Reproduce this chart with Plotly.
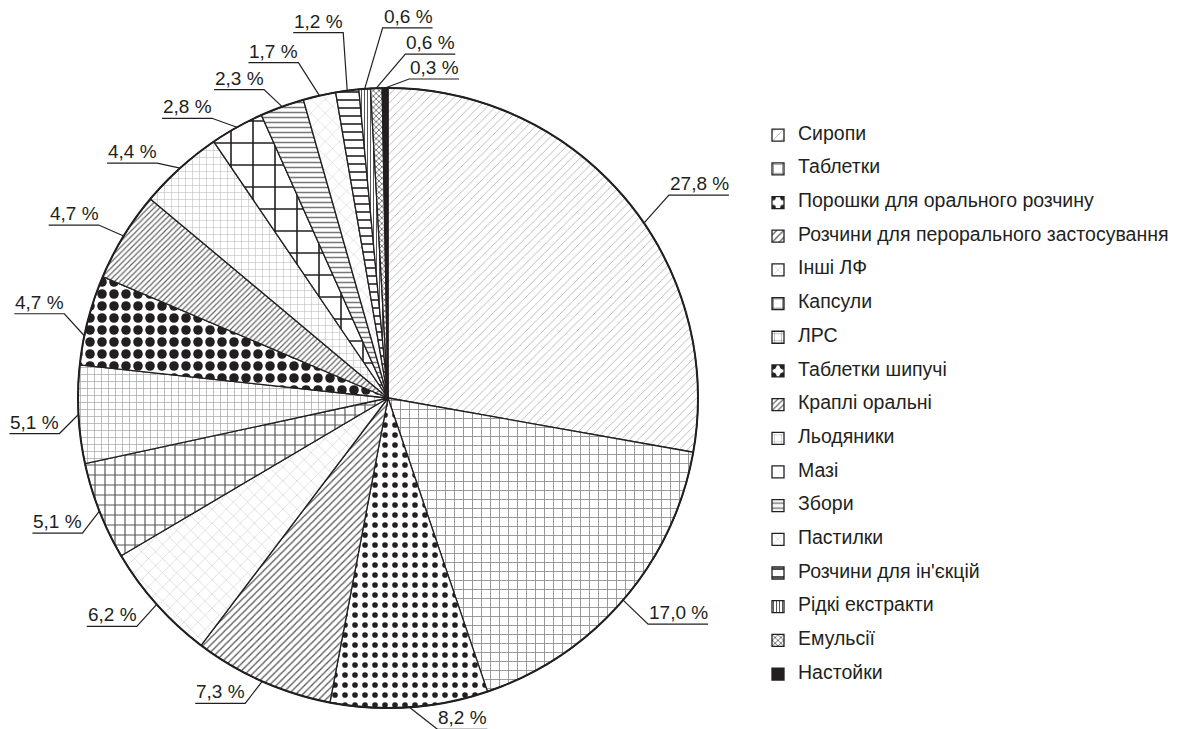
import math
import plotly.graph_objects as go

# ---------------- data ----------------
categories = [
    "Сиропи", "Таблетки", "Порошки для орального розчину",
    "Розчини для перорального застосування", "Інші ЛФ", "Капсули", "ЛРС",
    "Таблетки шипучі", "Краплі оральні", "Льодяники", "Мазі", "Збори",
    "Пастилки", "Розчини для ін'єкцій", "Рідкі екстракти", "Емульсії", "Настойки",
]
shares = [27.8, 17.0, 8.2, 7.3, 6.2, 5.1, 5.1, 4.7, 4.7, 4.4, 2.8, 2.3, 1.7, 1.2, 0.6, 0.6, 0.3]

# ---------------- styles ----------------
W, H = 1185, 729
CX, CY, R = 388, 398, 310
FONT = "Liberation Sans, Arial, sans-serif"
INK = "#231f20"

fill_colors = ["white"] * 16 + [INK]
pat_shapes = ["/", "+", ".", "/", "x", "+", "+", ".", "/", "+", "+", "-", "x", "-", "|", "x", ""]
pat_fg = ["#b5b5b5", "#8a8a8a", INK, "#555555", "#c4c4c4", "#555555", "#a8a8a8", INK,
          "#666666", "#b8b8b8", INK, "#777777", "#cccccc", INK, "#444444", "#333333", INK]
pat_size = [6, 9, 10, 5, 10, 10, 7, 12, 4, 7, 22, 5, 10, 8, 3, 4, 8]
pat_sol = [0.15, 0.18, 0.25, 0.25, 0.1, 0.22, 0.2, 0.5, 0.3, 0.15, 0.14, 0.3, 0.1, 0.2, 0.3, 0.3, 0.3]

# leader line: extra angle shift (deg) and elbow offset (px) relative to the rim point
lead_shift = [5.6, 0, 0, 0, 0, 0, 0, -3, 0, 0, 0, 0, 0, 0, 0, 0, 0]
lead_off = [(25, -28), (25, 24), (28, 22), (-17, 22), (-20, 22), (-17, 22), (-19, 19),
            (-20, -22), (-25, -11), (-23, -5), (-25, -9), (-18, -17), (-21, -33),
            (-4, -58), (18, -61), (29, -34), (24, -9)]
lead_side = [1, 1, 1, -1, -1, -1, -1, -1, -1, -1, -1, -1, -1, -1, 1, 1, 1]


def px(x):
    return x / W


def py(y):
    return 1 - y / H


fig = go.Figure()
fig.add_trace(go.Pie(
    labels=[f"<span style='font-size:19.5px'>{c}</span><br> " for c in categories],
    values=shares,
    sort=False,
    direction="clockwise",
    rotation=0,
    textinfo="none",
    hoverinfo="skip",
    marker=dict(
        colors=fill_colors,
        line=dict(color=INK, width=1.3),
        pattern=dict(shape=pat_shapes, fgcolor=pat_fg, size=pat_size,
                     solidity=pat_sol, fillmode="replace"),
    ),
    domain=dict(x=[px(CX - R), px(CX + R)], y=[py(CY + R), py(CY - R)]),
))

# outer rim (thicker)
fig.add_shape(type="circle", xref="paper", yref="paper",
              x0=px(CX - R), x1=px(CX + R), y0=py(CY + R), y1=py(CY - R),
              line=dict(color=INK, width=2))

total = sum(shares)
cum = 0.0
for i, v in enumerate(shares):
    mid = (cum + v / 2) / total * 360 + lead_shift[i]
    cum += v
    t = math.radians(mid)
    ex, ey = CX + R * math.sin(t), CY - R * math.cos(t)
    bx, by = ex + lead_off[i][0], ey + lead_off[i][1]
    label = f"{v:.1f}".replace(".", ",") + " %"
    ul = 50 if v < 10 else 60
    ux = bx + lead_side[i] * ul
    fig.add_shape(type="path", xref="paper", yref="paper",
                  path=f"M{px(ex)},{py(ey)} L{px(bx)},{py(by)} L{px(ux)},{py(by)}",
                  line=dict(color=INK, width=1.2))
    fig.add_annotation(
        x=px(min(bx, ux) - 1), y=py(by + 1), xref="paper", yref="paper",
        xanchor="left", yanchor="bottom", showarrow=False,
        text=label, font=dict(family=FONT, size=19, color=INK),
    )

fig.update_layout(
    width=W, height=H,
    margin=dict(l=0, r=0, t=0, b=0),
    paper_bgcolor="white", plot_bgcolor="white",
    font=dict(family=FONT, color=INK),
    showlegend=True,
    legend=dict(
        x=px(758), y=py(121), xanchor="left", yanchor="top",
        font=dict(family=FONT, size=11.8, color=INK),
        valign="top",
        bgcolor="rgba(0,0,0,0)",
        itemclick=False, itemdoubleclick=False,
    ),
)

fig.write_html("out.html", config={"displayModeBar": False},
               post_script="document.body.style.margin='0px';")
